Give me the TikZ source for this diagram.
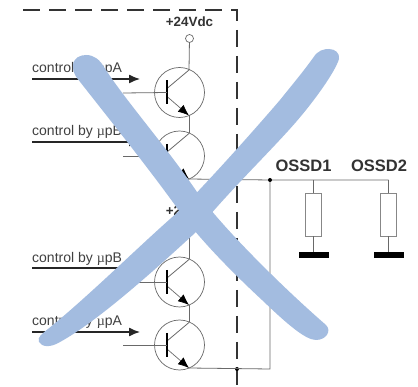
\documentclass[tikz,border=0pt]{standalone}
\usepackage{fontspec}
\setmainfont{Liberation Sans}
\newfontfamily\muserif{Liberation Serif}
\usetikzlibrary{arrows.meta}
\definecolor{xblue}{RGB}{163,188,224}
\definecolor{wire}{RGB}{105,105,105}
\tikzset{
 x=1pt,y=-1pt,
 wireline/.style={draw=wire,line width=0.8pt},
 ctrl/.style={draw=black!85,line width=1.3pt},
 bjt/.style={circle,draw=wire,line width=0.7pt,minimum size=50pt,inner sep=0pt},
 lbl/.style={font=\fontsize{14}{14}\selectfont,text=black!75,anchor=base west,inner sep=0pt},
 vlbl/.style={font=\fontsize{13.4}{14}\selectfont\bfseries,text=black!80,anchor=base,inner sep=0pt},
 blbl/.style={font=\fontsize{16.5}{17}\selectfont\bfseries,text=black!80,anchor=base,inner sep=0pt},
 res/.style={draw=wire!80,line width=0.8pt,fill=white,minimum width=16pt,minimum height=43pt,inner sep=0pt},
 gnd/.style={fill=black,minimum width=30pt,minimum height=6pt,inner sep=0pt},
 jdot/.style={circle,fill=black,minimum size=4pt,inner sep=0pt},
 frame/.style={draw=black!80,line width=1.5pt,dash pattern=on 17pt off 9pt},
 emit/.style={-{Latex[length=11pt,width=9pt,color=black]},draw=wire,line width=0.7pt}
}
\newcommand{\transistor}[2]{%
 \node[bjt] (#2) at (179.5,#1) {};
 \coordinate (#2b) at (167,#1);
 \coordinate (#2c) at (189,#1-22.5);
 \coordinate (#2e) at (189,#1+23);
 \draw[wireline] (#2b)++(0,-4) -- (#2c);
 \draw[emit] (167,#1+4) -- (#2e);
 \draw[black,line width=2.6pt] (167,#1-12) -- (167,#1+12);
}
\begin{document}
\begin{tikzpicture}
\useasboundingbox (0,0) rectangle (418,387);
\fill[white] (0,0) rectangle (418,387);
\draw[frame] (23,10) -- (237,10) -- (237,387);
\node[vlbl] (vlab1) at (189.5,27) {+24Vdc};
\node[vlbl] (vlab2) at (189.5,216) {+24Vdc};
\node[circle,draw=wire,line width=0.7pt,minimum size=8pt,inner sep=0pt,fill=white] (vcc) at (189.5,38.5) {};
\transistor{92.5}{qa}
\transistor{156}{qb}
\transistor{282}{qc}
\transistor{345}{qd}
\draw[wireline] (vcc) -- (qac);
\draw[wireline] (qae) -- (qbc);
\draw[wireline] (qce) -- (qdc);
\coordinate (vcc2) at (189,224);
\draw[wireline] (vcc2) -- (qcc);
\node[jdot] (j1) at (270,180) {};
\node[jdot] (j2) at (237,369) {};
\coordinate (top2) at (388.5,180);
\coordinate (bot) at (270,369);
\coordinate (t1) at (313.5,180);
\draw[wireline] (qbe) -- (j1) -- (top2);
\draw[wireline] (qde) -- (bot) -- (j1);
\node[res] (r1) at (313.5,214.5) {};
\node[res] (r2) at (388.5,214.5) {};
\node[gnd] (g1) at (313.5,255.5) {};
\node[gnd] (g2) at (388.5,255.5) {};
\draw[wireline] (t1) -- (r1) -- (g1);
\draw[wireline] (top2) -- (r2) -- (g2);
\node[blbl] at (303.5,172) {OSSD1};
\node[blbl] at (379,172) {OSSD2};
\node[lbl] at (32,73) {control by {\muserif µ}pA};
\node[lbl] at (32,136) {control by {\muserif µ}pB};
\node[lbl] at (32,263) {control by {\muserif µ}pB};
\node[lbl] at (32,326) {control by {\muserif µ}pA};
\foreach \y/\n in {79/ca,142/cb,268/cc,332/cd}{
 \coordinate (\n s) at (32,\y);
 \coordinate (\n t) at (140,\y);
 \draw[ctrl,-{Latex[length=11pt,width=9pt]}] (\n s) -- (\n t);
}
\coordinate (ba) at (123,93);
\coordinate (bb) at (123,156);
\coordinate (bc) at (138,282);
\coordinate (bd) at (123,345);
\draw[wireline] (ba) -- (qab);
\draw[wireline] (bb) -- (qbb);
\draw[wireline] (bc) -- (qcb);
\draw[wireline] (bd) -- (qdb);
\fill[xblue] (73,66) .. controls (73,58) and (80,55) .. (86,55) .. controls (94,55) and (100,60) .. (104,67)
  .. controls (125,100) and (165,145) .. (197,192) .. controls (220,225) and (280,285) .. (326,325)
  .. controls (332,331) and (326,340) .. (316,340) .. controls (305,340) and (285,322) .. (262,300)
  .. controls (235,275) and (200,240) .. (180,212) .. controls (150,170) and (110,120) .. (77,78)
  .. controls (74,74) and (73,70) .. (73,66) -- cycle;
\fill[xblue] (313,58) .. controls (318,50) and (324,49) .. (329,49) .. controls (335,49) and (340,53) .. (339,59)
  .. controls (335,72) and (315,100) .. (296,122) .. controls (270,152) and (225,195) .. (195,233)
  .. controls (160,265) and (100,320) .. (60,342) .. controls (50,348) and (42,347) .. (39,342)
  .. controls (37,337) and (42,334) .. (48,329) .. controls (90,295) and (140,245) .. (178,212)
  .. controls (205,185) and (250,135) .. (280,100) .. controls (292,85) and (303,72) .. (313,58) -- cycle;
\end{tikzpicture}
\end{document}
